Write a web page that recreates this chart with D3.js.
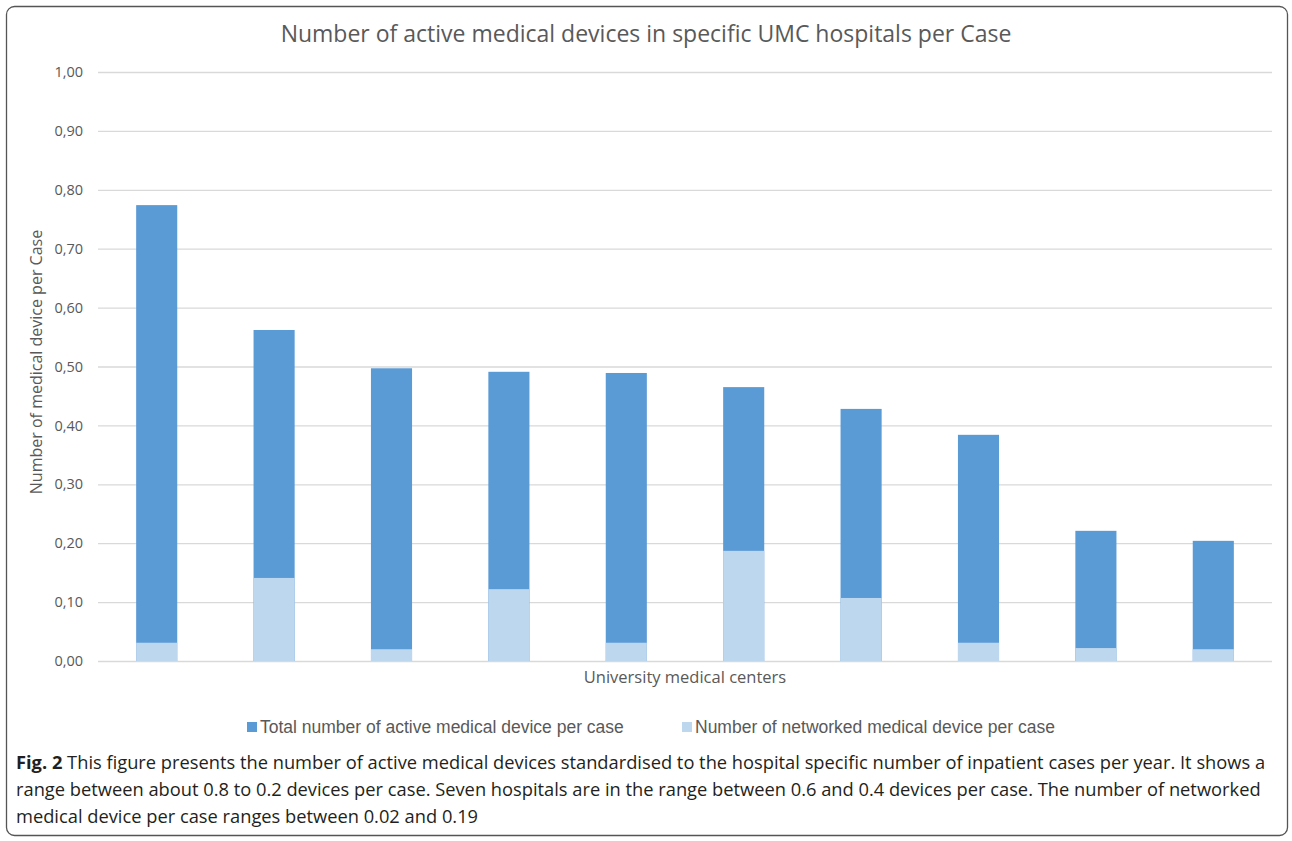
<!DOCTYPE html>
<html>
<head>
<meta charset="utf-8">
<script src="https://cdn.jsdelivr.net/npm/d3@7"></script>
<style>
  body { margin: 0; background: #fff; }
  svg { display: block; }
</style>
</head>
<body>
<svg id="chart" width="1292" height="841"></svg>
<script>
// values
var centers = ["UMC 1", "UMC 2", "UMC 3", "UMC 4", "UMC 5", "UMC 6", "UMC 7", "UMC 8", "UMC 9", "UMC 10"];
var totalPerCase = [0.774, 0.562, 0.497, 0.491, 0.489, 0.465, 0.428, 0.384, 0.221, 0.204];
var networkedPerCase = [0.031, 0.141, 0.020, 0.122, 0.031, 0.187, 0.107, 0.031, 0.022, 0.020];
var yTicks = [0, 0.1, 0.2, 0.3, 0.4, 0.5, 0.6, 0.7, 0.8, 0.9, 1.0];
var seriesNames = ["Total number of active medical device per case", "Number of networked medical device per case"];
var captionLines = [
  "This figure presents the number of active medical devices standardised to the hospital specific number of inpatient cases per year. It shows a",
  "range between about 0.8 to 0.2 devices per case. Seven hospitals are in the range between 0.6 and 0.4 devices per case. The number of networked",
  "medical device per case ranges between 0.02 and 0.19"
];

var darkBlue = "#5b9bd5", lightBlue = "#bdd7ee", grey = "#595959";
var chartFont = "'Liberation Sans Narrow', 'Liberation Sans', sans-serif";

var svg = d3.select("#chart");

// outer frame
svg.append("rect")
  .attr("x", 6.5).attr("y", 6.5)
  .attr("width", 1281).attr("height", 829)
  .attr("rx", 8)
  .attr("fill", "none")
  .attr("stroke", "#555")
  .attr("stroke-width", 1.3);

var xScale = d3.scaleBand()
  .domain(centers)
  .range([98, 1272])
  .paddingInner(0.65)
  .paddingOuter(0.325);

var yScale = d3.scaleLinear()
  .domain([0, 1])
  .range([661, 72]);

var fmt = function(d) { return d3.format(".2f")(d).replace(".", ","); };

// grid + y tick labels
var yAxis = d3.axisLeft(yScale)
  .tickValues(yTicks)
  .tickSize(-(1272 - 98))
  .tickPadding(15)
  .tickFormat(fmt);

var yAxisG = svg.append("g")
  .attr("transform", "translate(98,0)")
  .call(yAxis);
yAxisG.select(".domain").remove();
yAxisG.selectAll(".tick line").attr("stroke", "#d9d9d9").attr("stroke-width", 1.3);
yAxisG.selectAll(".tick text")
  .attr("fill", grey)
  .style("font-family", "'Open Sans', sans-serif")
  .style("font-size", "14.5px");

// total bars
svg.selectAll(".bar-total")
  .data(centers)
  .enter().append("rect")
  .attr("class", "bar-total")
  .attr("x", function(d) { return xScale(d); })
  .attr("width", xScale.bandwidth())
  .attr("y", function(d, i) { return yScale(totalPerCase[i]); })
  .attr("height", function(d, i) { return yScale(0) - yScale(totalPerCase[i]); })
  .attr("fill", darkBlue);

// networked bars (overlapping in front)
svg.selectAll(".bar-net")
  .data(centers)
  .enter().append("rect")
  .attr("class", "bar-net")
  .attr("x", function(d) { return xScale(d); })
  .attr("width", xScale.bandwidth())
  .attr("y", function(d, i) { return yScale(networkedPerCase[i]); })
  .attr("height", function(d, i) { return yScale(0) - yScale(networkedPerCase[i]); })
  .attr("fill", lightBlue);

// title
svg.append("text")
  .attr("x", 646).attr("y", 42)
  .attr("text-anchor", "middle")
  .attr("fill", grey)
  .style("font-family", "'Open Sans', sans-serif")
  .style("font-size", "23px")
  .text("Number of active medical devices in specific UMC hospitals per Case");

// axis titles
svg.append("text")
  .attr("transform", "translate(42,362) rotate(-90)")
  .attr("text-anchor", "middle")
  .attr("fill", grey)
  .style("font-family", "'Open Sans', sans-serif")
  .style("font-size", "16px")
  .text("Number of medical device per Case");

svg.append("text")
  .attr("x", 685).attr("y", 683)
  .attr("text-anchor", "middle")
  .attr("fill", grey)
  .style("font-family", "'Open Sans', sans-serif")
  .style("font-size", "16.5px")
  .text("University medical centers");

// legend
var legendX = [247, 682];
var legend = svg.selectAll(".legend")
  .data(seriesNames)
  .enter().append("g")
  .attr("class", "legend")
  .attr("transform", function(d, i) { return "translate(" + legendX[i] + ",727)"; });
legend.append("rect")
  .attr("x", 0).attr("y", -5)
  .attr("width", 10).attr("height", 10)
  .attr("fill", function(d, i) { return i === 0 ? darkBlue : lightBlue; });
legend.append("text")
  .attr("x", 13).attr("y", 6)
  .attr("fill", grey)
  .style("font-family", chartFont)
  .style("font-size", "17.5px")
  .text(function(d) { return d; });

// caption
var caption = svg.append("g")
  .style("font-family", "'Open Sans', sans-serif")
  .style("font-size", "18.3px")
  .attr("fill", "#231f20");
caption.selectAll("text")
  .data(captionLines)
  .enter().append("text")
  .attr("x", 16)
  .attr("y", function(d, i) { return 769 + i * 27; })
  .each(function(d, i) {
    var t = d3.select(this);
    if (i === 0) {
      t.append("tspan").style("font-weight", "bold").text("Fig. 2 ");
    }
    t.append("tspan").text(d);
  });
</script>
</body>
</html>
